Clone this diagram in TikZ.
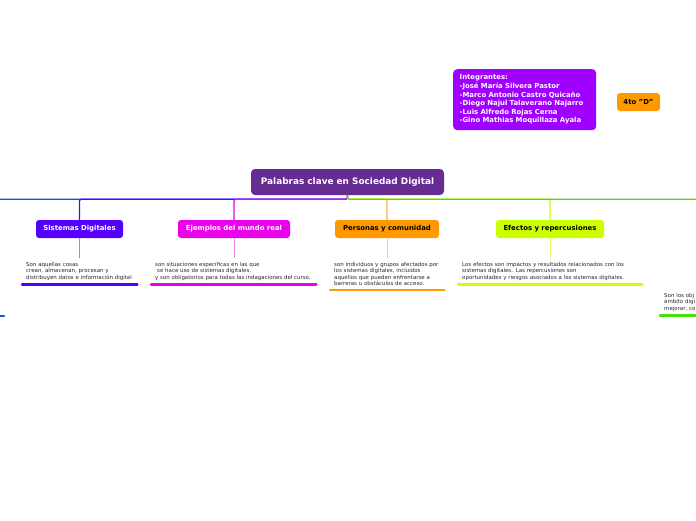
\documentclass[tikz,border=0pt]{standalone}
\usepackage{fontspec}
\setmainfont{DejaVu Sans}
\usetikzlibrary{positioning, calc}

\definecolor{maincol}{RGB}{102,44,145}
\definecolor{teamcol}{RGB}{160,0,255}
\definecolor{orangecol}{RGB}{255,153,0}
\definecolor{sdcol}{RGB}{85,0,255}
\definecolor{ejcol}{RGB}{235,0,235}
\definecolor{efcol}{RGB}{204,255,0}
\definecolor{greencol}{RGB}{70,225,10}
\definecolor{bluecol}{RGB}{0,85,255}

\begin{document}
\begin{tikzpicture}[x=1pt, y=-1pt,
    topic/.style={rounded corners=3pt, minimum height=18pt, inner xsep=5pt, inner ysep=0pt,
        font=\fontsize{6.9}{7.5}\selectfont\bfseries},
    note/.style={anchor=north west, align=left, inner sep=4pt, text=black!85,
        font=\fontsize{5.45}{6.4}\selectfont},
    branch/.style={line width=1.2pt, rounded corners=2pt},
    ul/.style={line width=2.5pt, line cap=round}]
        \useasboundingbox (0,0) rectangle (696,520);
        \clip (0,0) rectangle (696,520);

        \node[rounded corners=4pt, fill=maincol, text=white, minimum width=193pt, minimum height=26pt,
            font=\fontsize{8.9}{10}\selectfont\bfseries] (main) at (347.5,182) {Palabras clave en Sociedad Digital}; % centro
        \node[anchor=north west, rounded corners=4pt, fill=teamcol, text=white, align=left,
            text width=130pt, inner xsep=6.5pt, minimum height=61pt,
            font=\fontsize{6.9}{8.6}\selectfont\bfseries] (team) at (453,69)
            {Integrantes:\\-José María Silvera Pastor\\-Marco Antonio Castro Quicaño\\-Diego Najul Talaverano Najarro\\-Luis Alfredo Rojas Cerna\\-Gino Mathias Moquillaza Ayala}; % integrantes
        \node[topic, fill=orangecol, minimum width=43pt] (grp) at (638.5,102) {4to \char"22 D\char"22}; % grupo

        \node[topic, fill=sdcol, text=white, minimum width=87pt] (sd) at (79.5,229) {Sistemas Digitales};
        \node[topic, fill=ejcol, text=white, minimum width=112pt] (ej) at (234,229) {Ejemplos del mundo real};
        \node[topic, fill=orangecol, minimum width=104pt] (pc) at (387,229) {Personas y comunidad};
        \node[topic, fill=efcol, minimum width=108pt] (ef) at (550,229) {Efectos y repercusiones};

        \coordinate (offleft) at (-60,220);
        \coordinate (offright) at (760,220);
        \coordinate (ltxt) at (-100,316);

        \node[note, text width=107pt] (sdtxt) at (22,258)
            {Son aquellas cosas\\crean, almacenan, procesan y\\distribuyen datos e información digital};
        \node[note, text width=157pt] (ejtxt) at (151,258)
            {son situaciones específicas en las que\\\hspace*{2pt}se hace uso de sistemas digitales,\\y son obligatorios para todas las indagaciones del curso.};
        \node[note, text width=106pt] (pctxt) at (330,258)
            {son individuos y grupos afectados por\\los sistemas digitales, incluidos\\aquellos que pueden enfrentarse a\\barreras u obstáculos de acceso.};
        \node[note, text width=176pt] (eftxt) at (458,258)
            {Los efectos son impactos y resultados relacionados con los\\sistemas digitales. Las repercusiones son\\oportunidades y riesgos asociados a los sistemas digitales.};
        \node[note, text width=100pt] (rtxt) at (660,289)
            {Son los obj\\ámbito digi\\mejorar, co};

        \draw[branch, bluecol] (main.south) -- ++(0,4) -| (offleft);
        \draw[branch, sdcol] (main.south) -- ++(0,4) -| (sd.north);
        \draw[branch, ejcol] (main.south) -- ++(0,4) -| (ej.north);
        \draw[branch, orangecol!80] (main.south) -- ++(0,4) -| (pc.north);
        \draw[branch, efcol] (main.south) -- ++(0,4) -| (ef.north);
        \draw[branch, greencol] (main.south) -- ++(0,4) -| (offright);

        \draw[line width=1pt, sdcol!50] (sd.south) -- (sd.south |- sdtxt.north);
        \draw[line width=1pt, ejcol!50] (ej.south) -- (ej.south |- ejtxt.north);
        \draw[line width=1pt, orangecol!50] (pc.south) -- (pc.south |- pctxt.north);
        \draw[line width=1pt, efcol!60] (ef.south) -- (ef.south |- eftxt.north);

        \draw[ul, sdcol] (sdtxt.south west) -- (sdtxt.south east);
        \draw[ul, ejcol] (ejtxt.south west) -- (ejtxt.south east);
        \draw[ul, orangecol] (pctxt.south west) -- (pctxt.south east);
        \draw[ul, efcol] (eftxt.south west) -- (eftxt.south east);
        \draw[ul, greencol] (rtxt.south west) -- (rtxt.south east);
        \draw[ul, bluecol] (ltxt) -- ++(104,0);
    \end{tikzpicture}
\end{document}
